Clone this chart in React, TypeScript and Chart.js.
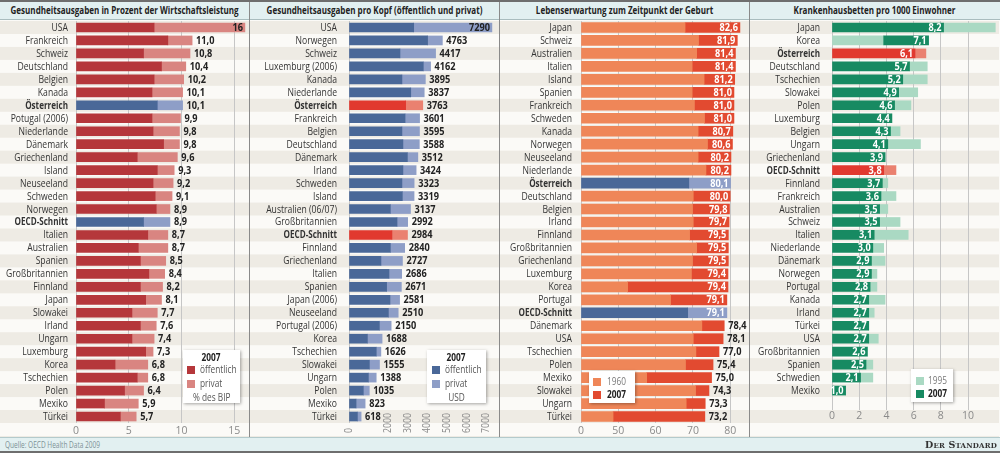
import React, { useEffect, useRef } from "react";
import { Chart, registerables, LinearScale } from "chart.js";

Chart.register(...registerables);

const FONT = "'Open Sans', 'Noto Sans', sans-serif";

// ---------------- Data ----------------
const gdpCountries = ["USA", "Frankreich", "Schweiz", "Deutschland", "Belgien", "Kanada", "Österreich", "Potugal (2006)", "Niederlande", "Dänemark", "Griechenland", "Island", "Neuseeland", "Schweden", "Norwegen", "OECD-Schnitt", "Italien", "Australien", "Spanien", "Großbritannien", "Finnland", "Japan", "Slowakei", "Irland", "Ungarn", "Luxemburg", "Korea", "Tschechien", "Polen", "Mexiko", "Türkei"];
const gdpPublic = [7.4, 8.7, 6.4, 8.1, 7.4, 7.2, 7.7, 7.2, 7.3, 8.3, 5.8, 7.7, 7.3, 7.5, 7.6, 6.4, 6.8, 5.9, 6.1, 6.9, 6.1, 6.6, 5.3, 6.1, 5.3, 6.6, 3.7, 5.8, 4.6, 2.7, 4.2];
const gdpTotal = [16, 11.0, 10.8, 10.4, 10.2, 10.1, 10.1, 9.9, 9.8, 9.8, 9.6, 9.3, 9.2, 9.1, 8.9, 8.9, 8.7, 8.7, 8.5, 8.4, 8.2, 8.1, 7.7, 7.6, 7.4, 7.3, 6.8, 6.8, 6.4, 5.9, 5.7];
const gdpTicks = [0, 5, 10, 15];

const usdCountries = ["USA", "Norwegen", "Schweiz", "Luxemburg (2006)", "Kanada", "Niederlande", "Österreich", "Frankreich", "Belgien", "Deutschland", "Dänemark", "Irland", "Schweden", "Island", "Australien (06/07)", "Großbritannien", "OECD-Schnitt", "Finnland", "Griechenland", "Italien", "Spanien", "Japan (2006)", "Neuseeland", "Portugal (2006)", "Korea", "Tschechien", "Slowakei", "Ungarn", "Polen", "Mexiko", "Türkei"];
const usdPublic = [3300, 4010, 2600, 3790, 2700, 3150, 2890, 2860, 2700, 2750, 2980, 2750, 2700, 2720, 2110, 2450, 2190, 2110, 1630, 2040, 1920, 2090, 2010, 1550, 940, 1390, 1040, 990, 730, 360, 430];
const usdTotal = [7290, 4763, 4417, 4162, 3895, 3837, 3763, 3601, 3595, 3588, 3512, 3424, 3323, 3319, 3137, 2992, 2984, 2840, 2727, 2686, 2671, 2581, 2510, 2150, 1688, 1626, 1555, 1388, 1035, 823, 618];
const usdTicks = [0, 2000, 3000, 4000, 5000, 6000, 7000];

const lifeCountries = ["Japan", "Schweiz", "Australien", "Italien", "Island", "Spanien", "Frankreich", "Schweden", "Kanada", "Norwegen", "Neuseeland", "Niederlande", "Österreich", "Deutschland", "Belgien", "Irland", "Finnland", "Großbritannien", "Griechenland", "Luxemburg", "Korea", "Portugal", "OECD-Schnitt", "Dänemark", "USA", "Tschechien", "Polen", "Mexiko", "Slowakei", "Ungarn", "Türkei"];
const life1960 = [67.9, 71.5, 71.0, 69.8, 73.0, 69.8, 70.4, 73.1, 71.4, 73.9, 71.4, 73.5, 68.9, 70.1, 69.9, 70.1, 69.1, 71.0, 69.9, 69.6, 52.5, 64.0, 68.6, 72.4, 70.1, 70.8, 68.0, 57.6, 70.7, 68.2, 43.0];
const life2007 = [82.6, 81.9, 81.4, 81.4, 81.2, 81.0, 81.0, 81.0, 80.7, 80.6, 80.2, 80.2, 80.1, 80.0, 79.8, 79.7, 79.5, 79.5, 79.5, 79.4, 79.4, 79.1, 79.1, 78.4, 78.1, 77.0, 75.4, 75.0, 74.3, 73.3, 73.2];
const lifeTicks = [0, 50, 60, 70, 80];

const bedCountries = ["Japan", "Korea", "Österreich", "Deutschland", "Tschechien", "Slowakei", "Polen", "Luxemburg", "Belgien", "Ungarn", "Griechenland", "OECD-Schnitt", "Finnland", "Frankreich", "Australien", "Schweiz", "Italien", "Niederlande", "Dänemark", "Norwegen", "Portugal", "Kanada", "Irland", "Türkei", "USA", "Großbritannien", "Spanien", "Schwedien", "Mexiko", ""];
const beds1995 = [12.0, 3.8, 6.9, 7.0, 7.0, 6.3, 5.8, 4.4, 5.0, 6.5, 3.9, 4.7, 4.1, 4.7, 4.1, 5.0, 5.6, 3.8, 3.9, 3.3, 3.3, 3.9, 3.1, 2.7, 3.4, 2.6, 3.0, 3.0, 1.0];
const beds2007 = [8.2, 7.1, 6.1, 5.7, 5.2, 4.9, 4.6, 4.4, 4.3, 4.1, 3.9, 3.8, 3.7, 3.6, 3.5, 3.5, 3.1, 3.0, 2.9, 2.9, 2.8, 2.7, 2.7, 2.7, 2.7, 2.6, 2.5, 2.1, 1.0];
const bedTicks = [0, 2, 4, 6, 8, 10];

const titles = [
  "Gesundheitsausgaben in Prozent der Wirtschaftsleistung",
  "Gesundheitsausgaben pro Kopf (öffentlich und privat)",
  "Lebenserwartung zum Zeitpunkt der Geburt",
  "Krankenhausbetten pro 1000 Einwohner",
];

const HI = new Set(["Österreich", "OECD-Schnitt"]);

const C = {
  red: "#b5373b",
  redLight: "#d98581",
  blue: "#4a6898",
  blueLight: "#8e9ec7",
  hiRed: "#e1392f",
  hiRedLight: "#ea8170",
  orange: "#ef8658",
  orangeDark: "#e24a30",
  green: "#178a62",
  greenLight: "#aad9c3",
  beige: "#eeebe4",
  white: "#fbfaf7",
  grid: "#c6c6c6",
  tick: "#8a8a8a",
  label: "#333333",
  value: "#222222",
};

const fmt1 = (v: number) => v.toFixed(1).replace(".", ",");
const font = (size: number, bold = false) => `${bold ? "bold " : ""}${size}px ${FONT}`;

// text measuring to emulate the condensed newspaper face
let mctx: CanvasRenderingContext2D | null = null;
function measure(text: string, f: string) {
  if (!mctx) mctx = document.createElement("canvas").getContext("2d");
  (mctx as CanvasRenderingContext2D).font = f;
  return (mctx as CanvasRenderingContext2D).measureText(text).width;
}
const SX = {
  get label() { return 62 / measure("Großbritannien", font(10.5)); },
  get labelBold() { return 53.5 / measure("OECD-Schnitt", font(10.5, true)); },
  get value() { return 21 / measure("3763", font(10.5, true)); },
  get title() { return 228 / measure(titles[0], font(10.5, true)); },
  get legend() { return 36.5 / measure("öffentlich", font(10.5)); },
  get tick() { return 20 / measure("2000", font(10.5)); },
  get source() { return 95 / measure("Quelle: OECD Health Data 2009", font(8.5)); },
};

function drawText(ctx: CanvasRenderingContext2D, text: string, x: number, y: number, align: CanvasTextAlign, sx: number, color: string, f: string) {
  ctx.save();
  ctx.font = f;
  ctx.fillStyle = color;
  ctx.textAlign = align;
  ctx.textBaseline = "middle";
  ctx.translate(x, y);
  ctx.scale(sx, 1);
  ctx.fillText(text, 0, 0);
  ctx.restore();
}

// Broken axis: 0..50 compressed to the width of 10 units
const toDisp = (v: number) => (v <= 50 ? v / 5 : v - 40);
class BrokenScale extends LinearScale {
  static id = "broken";
  static defaults = {};
  getPixelForValue(value: any) {
    if (value === null || value === undefined || isNaN(value)) return NaN;
    return super.getPixelForValue(toDisp(value));
  }
  getValueForPixel(pixel: number) {
    const d = super.getValueForPixel(pixel) as number;
    return d <= 10 ? d * 5 : d + 40;
  }
}
Chart.register(BrokenScale as any);

// ---------------- Plugins ----------------
const stripes = {
  id: "stripes",
  beforeDraw(chart: any) {
    const { ctx, chartArea, width, height } = chart;
    const n = chart.data.labels.length;
    const rh = (chartArea.bottom - chartArea.top) / n;
    ctx.save();
    ctx.fillStyle = C.white;
    ctx.fillRect(0, 0, width, height);
    ctx.fillStyle = C.beige;
    for (let i = 0; chartArea.top + i * rh < height; i++) {
      if (i % 2 === 0) ctx.fillRect(0, chartArea.top + i * rh, width, rh);
    }
    ctx.restore();
  },
};

function yLabels(pad: number) {
  return {
    id: "yLabels",
    afterDraw(chart: any) {
      const ys = chart.scales.y;
      const x = chart.chartArea.left - pad;
      const sL = SX.label;
      const sB = SX.labelBold;
      (chart.data.labels as string[]).forEach((lab, i) => {
        if (!lab) return;
        const bold = HI.has(lab);
        drawText(chart.ctx, lab, x, ys.getPixelForValue(i) + 0.5, "right", bold ? sB : sL, C.label, font(10.5, bold));
      });
    },
  };
}

function valueLabels(datasetIndex: number, values: number[], fmt: (v: number) => string, mode: (v: number, x: number, w: number, chart: any) => "in" | "out", inColor: string, outColor: string) {
  return {
    id: "valueLabels",
    afterDatasetsDraw(chart: any) {
      const meta = chart.getDatasetMeta(datasetIndex);
      const sv = SX.value;
      const f = font(10.5, true);
      values.forEach((v, i) => {
        const el = meta.data[i];
        if (!el) return;
        const t = fmt(v);
        const w = measure(t, f) * sv;
        if (mode(v, el.x, w, chart) === "in") {
          drawText(chart.ctx, t, el.x - 2, el.y + 0.5, "right", sv, inColor, f);
        } else {
          drawText(chart.ctx, t, el.x + 4, el.y + 0.5, "left", sv, outColor, f);
        }
      });
    },
  };
}

const overflow = (_v: number, x: number, w: number, chart: any) => (x + 4 + w > chart.width - 2 ? "in" : "out");

// ---------------- Options ----------------
function xAxis(type: string, max: number, ticks: number[], extra: any = {}) {
  return {
    type,
    min: 0,
    max,
    bounds: "data",
    afterBuildTicks: (s: any) => {
      s.ticks = ticks.map((value) => ({ value }));
    },
    afterFit: (s: any) => {
      s.height = 14;
    },
    grid: { color: C.grid, drawTicks: false, lineWidth: 1 },
    border: { display: false },
    ticks: {
      padding: 2,
      color: C.tick,
      autoSkip: false,
      maxRotation: 0,
      font: { family: FONT, size: 10.5 },
      callback: (v: any) => String(v),
    },
    ...extra,
  };
}

function baseOptions(yw: number, padRight: number, padBottom: number, x: any) {
  return {
    indexAxis: "y",
    responsive: false,
    maintainAspectRatio: false,
    animation: false,
    events: [],
    layout: { padding: { top: 1, right: padRight, bottom: padBottom, left: 0 } },
    plugins: { legend: { display: false }, tooltip: { enabled: false } },
    scales: {
      y: {
        type: "category",
        grid: { display: false, drawTicks: false },
        border: { display: false },
        ticks: { display: false, autoSkip: false },
        afterFit: (s: any) => {
          s.width = yw;
        },
      },
      x,
    },
  };
}

const colorsFor = (names: string[], base: string, hi: string) => names.map((c) => (HI.has(c) ? hi : base));

function gdpConfig(): any {
  return {
    type: "bar",
    data: {
      labels: gdpCountries,
      datasets: [
        { label: "öffentlich", data: gdpPublic.map((v) => [0, v]), backgroundColor: colorsFor(gdpCountries, C.red, C.blue), grouped: false, barThickness: 9 },
        { label: "privat", data: gdpPublic.map((v, i) => [v, gdpTotal[i]]), backgroundColor: colorsFor(gdpCountries, C.redLight, C.blueLight), grouped: false, barThickness: 9 },
      ],
    },
    options: baseOptions(76, 2, 0, xAxis("linear", 16.2, gdpTicks)),
    plugins: [stripes, yLabels(8), valueLabels(1, gdpTotal, (v) => (v >= 15 ? String(Math.round(v)) : fmt1(v)), overflow, C.value, C.value)],
  };
}

function usdConfig(): any {
  const x = xAxis("linear", 7550, usdTicks, {
    grid: { color: (c: any) => (c.tick && c.tick.value === 0 ? C.grid : "rgba(0,0,0,0)"), drawTicks: false },
    ticks: { display: false },
  });
  return {
    type: "bar",
    data: {
      labels: usdCountries,
      datasets: [
        { label: "öffentlich", data: usdPublic.map((v) => [0, v]), backgroundColor: colorsFor(usdCountries, C.blue, C.hiRed), grouped: false, barThickness: 9 },
        { label: "privat", data: usdPublic.map((v, i) => [v, usdTotal[i]]), backgroundColor: colorsFor(usdCountries, C.blueLight, C.hiRedLight), grouped: false, barThickness: 9 },
      ],
    },
    options: baseOptions(99, 2, 0, x),
    plugins: [
      stripes,
      yLabels(12),
      valueLabels(1, usdTotal, (v) => String(v), overflow, C.value, C.value),
      {
        id: "rotTicks",
        afterDraw(chart: any) {
          const sx = chart.scales.x;
          const ctx = chart.ctx as CanvasRenderingContext2D;
          const st = SX.tick;
          usdTicks.forEach((v) => {
            const px = sx.getPixelForValue(v);
            ctx.save();
            ctx.translate(px, chart.height - 4);
            ctx.rotate(-Math.PI / 2);
            drawText(ctx, String(v), 0, 0, "left", st, C.tick, font(10.5));
            ctx.restore();
          });
        },
      },
    ],
  };
}

function lifeConfig(): any {
  return {
    type: "bar",
    data: {
      labels: lifeCountries,
      datasets: [
        { label: "1960", data: life1960.map((v) => [0, v]), backgroundColor: colorsFor(lifeCountries, C.orange, C.blue), grouped: false, barThickness: 10 },
        { label: "2007", data: life1960.map((v, i) => [v, life2007[i]]), backgroundColor: colorsFor(lifeCountries, C.orangeDark, C.blueLight), grouped: false, barThickness: 10 },
      ],
    },
    options: baseOptions(81, 2, 0, xAxis("broken", 44.5, lifeTicks)),
    plugins: [stripes, yLabels(9), valueLabels(1, life2007, fmt1, (v) => (v >= 79 ? "in" : "out"), "#ffffff", C.value)],
  };
}

function bedConfig(): any {
  return {
    type: "bar",
    data: {
      labels: bedCountries,
      datasets: [
        { label: "2007", data: beds2007.map((v, i) => (beds1995[i] < v ? [beds1995[i], v] : [0, v])), backgroundColor: colorsFor(bedCountries, C.green, C.hiRed), grouped: false, barThickness: 9 },
        { label: "1995", data: beds1995.map((v, i) => (v < beds2007[i] ? [0, v] : [beds2007[i], v])), backgroundColor: colorsFor(bedCountries, C.greenLight, C.hiRedLight), grouped: false, barThickness: 9 },
      ],
    },
    options: baseOptions(82, 1, 13, xAxis("linear", 12.2, bedTicks, {
      ticks: { padding: 0, color: C.tick, autoSkip: false, maxRotation: 0, font: { family: FONT, size: 10.5 }, callback: (v: any) => String(v) },
    })),
    plugins: [stripes, yLabels(12), valueLabels(0, beds2007, fmt1, () => "in", "#ffffff", C.value)],
  };
}

// ---------------- Components ----------------
type Item = { color?: string; text: string; bold?: boolean; gray?: boolean };

function LegendBox(props: { left: number; top: number; width: number; height: number; rows: { top: number; item: Item }[]; swLeft: number; txLeft: number; sx: number }) {
  const { left, top, width, height, rows, swLeft, txLeft, sx } = props;
  return (
    <div style={{ position: "absolute", left, top, width, height, background: "#ffffff", boxShadow: "1px 1px 3px rgba(0,0,0,0.35)" }}>
      {rows.map((r, k) => (
        <React.Fragment key={k}>
          {r.item.color ? <div style={{ position: "absolute", left: swLeft, top: r.top + 2, width: 8, height: 8, background: r.item.color }} /> : null}
          <div
            style={{
              position: "absolute",
              left: r.item.color ? txLeft : 0,
              width: r.item.color ? undefined : width,
              textAlign: r.item.color ? "left" : "center",
              top: r.top - 1,
              lineHeight: "13px",
              fontSize: 10.5,
              fontWeight: r.item.bold ? "bold" : "normal",
              color: r.item.bold ? "#222" : r.item.gray ? "#7a7a7a" : "#555",
              whiteSpace: "nowrap",
            }}
          >
            <span style={{ display: "inline-block", transform: `scaleX(${sx})`, transformOrigin: r.item.color ? "0 50%" : "50% 50%" }}>{r.item.text}</span>
          </div>
        </React.Fragment>
      ))}
    </div>
  );
}

export default function App() {
  const r1 = useRef<HTMLCanvasElement>(null);
  const r2 = useRef<HTMLCanvasElement>(null);
  const r3 = useRef<HTMLCanvasElement>(null);
  const r4 = useRef<HTMLCanvasElement>(null);

  useEffect(() => {
    const charts = [
      new Chart(r1.current as HTMLCanvasElement, gdpConfig()),
      new Chart(r2.current as HTMLCanvasElement, usdConfig()),
      new Chart(r3.current as HTMLCanvasElement, lifeConfig()),
      new Chart(r4.current as HTMLCanvasElement, bedConfig()),
    ];
    return () => charts.forEach((c) => c.destroy());
  }, []);

  const refs = [r1, r2, r3, r4];
  const sT = SX.title;
  const sLg = SX.legend;
  const sSrc = SX.source;

  return (
    <div style={{ position: "fixed", left: 0, top: 0, width: 1000, height: 453, background: C.white, overflow: "hidden", fontFamily: FONT }}>
      <div style={{ position: "absolute", left: 0, top: 0, width: 1000, height: 2, background: "#6e6e6e" }} />
      <div style={{ position: "absolute", left: 0, top: 2, width: 1000, height: 17, background: "#e2f0f1" }} />
      <div style={{ position: "absolute", left: 0, top: 19, width: 1000, height: 1, background: "#a9bdbf" }} />
      {titles.map((t, i) => (
        <div key={i} style={{ position: "absolute", left: i * 250 - 100, top: 2, width: 449, height: 17, lineHeight: "17px", textAlign: "center", fontWeight: "bold", fontSize: 10.5, color: "#222", whiteSpace: "nowrap", transform: `scaleX(${sT})`, transformOrigin: "50% 50%" }}>
          {t}
        </div>
      ))}
      {refs.map((r, i) => (
        <canvas key={i} ref={r} width={249} height={417} style={{ position: "absolute", left: i * 250, top: 20, width: 249, height: 417 }} />
      ))}
      {[1, 2, 3].map((i) => (
        <div key={i} style={{ position: "absolute", left: i * 250 - 1, top: 2, width: 1, height: 435, background: "#8a8a8a" }} />
      ))}

      <LegendBox left={183} top={350} width={57} height={53} swLeft={4} txLeft={17} sx={sLg} rows={[
        { top: 2, item: { text: "2007", bold: true } },
        { top: 14, item: { text: "öffentlich", color: C.red } },
        { top: 28, item: { text: "privat", color: C.redLight } },
        { top: 42, item: { text: "% des BIP" } },
      ]} />
      <LegendBox left={427} top={350} width={59} height={53} swLeft={5} txLeft={18} sx={sLg} rows={[
        { top: 2, item: { text: "2007", bold: true } },
        { top: 14, item: { text: "öffentlich", color: C.blue } },
        { top: 28, item: { text: "privat", color: C.blueLight } },
        { top: 42, item: { text: "USD" } },
      ]} />
      <LegendBox left={589} top={371} width={46} height={32} swLeft={4} txLeft={18} sx={sLg} rows={[
        { top: 5, item: { text: "1960", color: C.orange, gray: true } },
        { top: 18, item: { text: "2007", color: C.orangeDark, bold: true } },
      ]} />
      <LegendBox left={911} top={369} width={42} height={33} swLeft={5} txLeft={17} sx={sLg} rows={[
        { top: 6, item: { text: "1995", color: C.greenLight, gray: true } },
        { top: 19, item: { text: "2007", color: C.green, bold: true } },
      ]} />

      <div style={{ position: "absolute", left: 0, top: 437, width: 1000, height: 14, background: "#e2f0f1", borderTop: "1px solid #b3cacc", boxSizing: "border-box" }} />
      <div style={{ position: "absolute", left: 0, top: 451, width: 1000, height: 2, background: "#6e6e6e" }} />
      <div style={{ position: "absolute", left: 5, top: 438, height: 13, lineHeight: "13px", fontSize: 8.5, color: "#7d9196", whiteSpace: "nowrap", transform: `scaleX(${sSrc})`, transformOrigin: "0 50%" }}>
        Quelle: OECD Health Data 2009
      </div>
      <div style={{ position: "absolute", right: 3, top: 438, height: 13, lineHeight: "13px", fontSize: 9.5, fontFamily: "'DejaVu Serif', 'Liberation Serif', serif", fontWeight: "bold", fontVariant: "small-caps", color: "#333", whiteSpace: "nowrap", letterSpacing: 0.2 }}>
        Der Standard
      </div>
    </div>
  );
}
